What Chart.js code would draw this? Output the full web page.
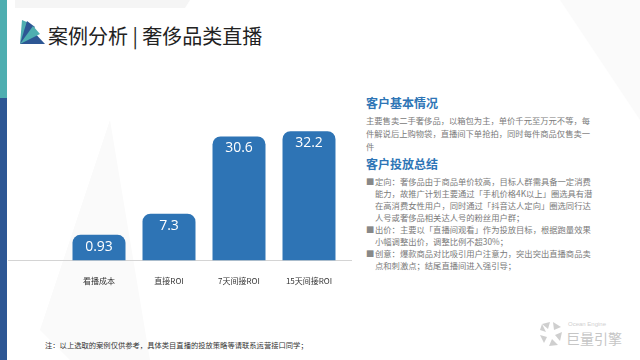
<!DOCTYPE html>
<html>
<head>
<meta charset="utf-8">
<script src="https://cdn.jsdelivr.net/npm/chart.js@4"></script>
<style>
  html, body { margin: 0; padding: 0; }
  body { width: 640px; height: 360px; position: relative; overflow: hidden; background: #fff;
         font-family: "Noto Sans CJK SC", "Noto Sans", sans-serif; }
  .abs { position: absolute; white-space: nowrap; }
  .strip1 { left: 0; top: 0; width: 7px; height: 98px; background: #4eaeb0; }
  .strip2 { left: 0; top: 98px; width: 7px; height: 262px; background: #2d5794; }
  .title { left: 48px; top: 22px; font-size: 20px; line-height: 28px; color: #222; }
  .h { font-size: 12px; font-weight: bold; color: #2e75b6; line-height: 14px; }
  .body { font-size: 8.3px; color: #7a7a7a; line-height: 12.8px; }
  .bul { font-size: 8.3px; color: #7a7a7a; line-height: 12px; }
  .bul span { display: inline-block; width: 9px; color: #888; }
  .note { left: 45px; top: 339px; font-size: 7.3px; color: #333; line-height: 12px; }
  #wrap { position: absolute; left: 8px; top: 100px; width: 352px; height: 214px; }
</style>
</head>
<body>
<svg class="abs" style="left:0;top:0" width="640" height="360">
  <polygon points="15,0 190,0 185,8 15,8" fill="#f5f5f5"/>
  <polygon points="110,120 40,330 70,360 150,360" fill="#fafafa"/>
  <polygon points="560,0 640,0 640,120" fill="#fafafa"/>
</svg>
<div class="abs strip1"></div>
<div class="abs strip2"></div>
<svg class="abs" style="left:19px;top:17px" width="27" height="28">
  <polygon points="1,27 26,27 12,12" fill="#2d5794"/>
  <polygon points="1,27 3,3 10,6" fill="#4eaeb0"/>
  <polygon points="1,27 8,4 16,10" fill="#2d5794"/>
  <polygon points="1,27 14,9 21,17" fill="#4eaeb0"/>
</svg>
<div class="abs title">案例分析 | 奢侈品类直播</div>

<div class="abs h" style="left:366px;top:96px">客户基本情况</div>
<div class="abs body" style="left:366px;top:114px">主要售卖二手奢侈品，以箱包为主，单价千元至万元不等，每<br>件解说后上购物袋，直播间下单抢拍，同时每件商品仅售卖一<br>件</div>
<div class="abs h" style="left:366px;top:157px">客户投放总结</div>
<div class="abs bul" style="left:366px;top:175px">
<span>■</span>定向：奢侈品由于商品单价较高，目标人群需具备一定消费<br>
<span></span>能力，故推广计划主要通过「手机价格4K以上」圈选具有潜<br>
<span></span>在高消费女性用户，同时通过「抖音达人定向」圈选同行达<br>
<span></span>人号或奢侈品相关达人号的粉丝用户群；<br>
<span>■</span>出价：主要以「直播间观看」作为投放目标，根据跑量效果<br>
<span></span>小幅调整出价，调整比例不超30%；<br>
<span>■</span>创意：爆款商品对比吸引用户注意力，突出突出直播商品卖<br>
<span></span>点和刺激点；结尾直播间进入强引导；
</div>

<div class="abs note">注：以上选取的案例仅供参考，具体类目直播的投放策略等请联系运营接口同学；</div>

<svg class="abs" style="left:538px;top:320px" width="26" height="28">
  <g fill="#cfcfcf">
    <polygon points="4,4 12,2 10,9"/>
    <polygon points="15,2 23,7 16,10"/>
    <polygon points="24,12 22,21 17,15"/>
    <polygon points="20,25 11,26 14,19"/>
    <polygon points="6,23 2,15 9,17"/>
    <polygon points="2,10 4,4 8,12"/>
  </g>
</svg>
<div class="abs" style="left:568px;top:321px;font-size:6px;color:#cfcfcf;font-family:'Liberation Sans'">Ocean Engine</div>
<div class="abs" style="left:566px;top:329px;font-size:14px;color:#c6c6c6;line-height:18px">巨量引擎</div>

<div id="wrap"><canvas id="c"></canvas></div>

<script>
const categories = ['看播成本', '直接ROI', '7天间接ROI', '15天间接ROI']
const values = [0.93, 7.3, 30.6, 32.2]
const valueLabels = ['0.93', '7.3', '30.6', '32.2']

// labels inside the bar tops
const barLabels = {
  id: 'barLabels',
  afterDatasetsDraw(chart) {
    const ctx = chart.ctx
    const meta = chart.getDatasetMeta(0)
    ctx.save()
    ctx.fillStyle = '#ffffff'
    ctx.font = '14px "Open Sans", sans-serif'
    ctx.textAlign = 'center'
    ctx.textBaseline = 'middle'
    meta.data.forEach((bar, i) => {
      ctx.fillText(valueLabels[i], bar.x, bar.y + 12)
    })
    ctx.restore()
  }
}

// long baseline under the bars
const baseLine = {
  id: 'baseLine',
  beforeDatasetsDraw(chart) {
    const ctx = chart.ctx
    const y = Math.round(chart.chartArea.bottom) + 0.5
    ctx.save()
    ctx.strokeStyle = '#d4d4d4'
    ctx.lineWidth = 1
    ctx.beginPath()
    ctx.moveTo(0, y)
    ctx.lineTo(chart.width - 8, y)
    ctx.stroke()
    ctx.restore()
  }
}

new Chart(document.getElementById('c'), {
  type: 'bar',
  data: {
    labels: categories,
    datasets: [{
      data: values,
      base: -6.8,
      backgroundColor: '#2e74b5',
      borderRadius: 8,
      borderSkipped: 'start',
      categoryPercentage: 1,
      barPercentage: 0.757
    }]
  },
  options: {
    responsive: true,
    maintainAspectRatio: false,
    animation: false,
    layout: { padding: { left: 56, right: 16, top: 10, bottom: 12 } },
    plugins: { legend: { display: false }, tooltip: { enabled: false } },
    scales: {
      x: {
        grid: { display: false, drawTicks: false },
        border: { display: false },
        ticks: { color: '#333', padding: 16, font: { size: 8, family: '"Noto Sans CJK SC"' } }
      },
      y: { display: false, min: -6.8, max: 38.6 }
    }
  },
  plugins: [barLabels, baseLine]
})
</script>
</body>
</html>
